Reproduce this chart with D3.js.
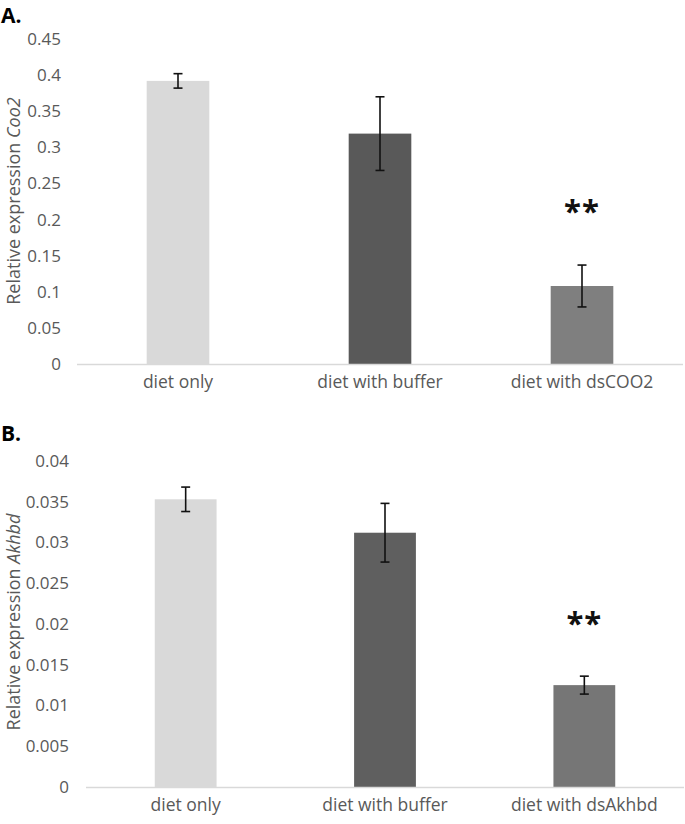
<!DOCTYPE html>
<html>
<head>
<meta charset="utf-8">
<script src="https://cdn.jsdelivr.net/npm/d3@7"></script>
<style>
	body { margin: 0; background: #fff; }
	text { font-family: "Open Sans", sans-serif; }
</style>
</head>
<body>
<div id="chart"></div>
<script>
// Values
var categoriesA = ["diet only", "diet with buffer", "diet with dsCOO2"];
var valuesA = [0.392, 0.319, 0.108];
var errorsA = [0.010, 0.051, 0.029];
var ticksA = [0, 0.05, 0.1, 0.15, 0.2, 0.25, 0.3, 0.35, 0.4, 0.45];
var colorsA = ["#d9d9d9", "#595959", "#7f7f7f"];

var categoriesB = ["diet only", "diet with buffer", "diet with dsAkhbd"];
var valuesB = [0.0353, 0.0312, 0.0125];
var errorsB = [0.0015, 0.0036, 0.0011];
var ticksB = [0, 0.005, 0.01, 0.015, 0.02, 0.025, 0.03, 0.035, 0.04];
var colorsB = ["#d9d9d9", "#5f5f5f", "#767676"];

var width = 685, height = 824;

var svg = d3.select("#chart").append("svg")
	.attr("width", width)
	.attr("height", height);

// Draws one panel of the figure
function drawPanel(opts) {
	var g = svg.append("g");

	var x = d3.scaleBand()
		.domain(opts.categories)
		.range([opts.left, opts.right])
		.paddingInner(0.69)
		.paddingOuter(0.345);

	var y = d3.scaleLinear()
		.domain([0, opts.max])
		.range([opts.bottom, opts.top]);

	// y tick labels, no axis line
	var yAxis = g.append("g")
		.attr("transform", "translate(" + opts.left + ",0)")
		.call(d3.axisLeft(y).tickValues(opts.ticks).tickSize(0).tickPadding(opts.tickPad)
			.tickFormat(function(d){ return String(d); }));
	yAxis.select(".domain").remove();
	yAxis.selectAll("text")
		.style("font-family", "'Open Sans', sans-serif")
		.style("font-size", "17px")
		.attr("fill", "#595959");

	// bars
	g.selectAll("rect.bar")
		.data(opts.values)
		.enter().append("rect")
		.attr("class", "bar")
		.attr("x", function(d, i){ return x(opts.categories[i]); })
		.attr("y", function(d){ return y(d); })
		.attr("width", x.bandwidth())
		.attr("height", function(d){ return y(0) - y(d); })
		.attr("fill", function(d, i){ return opts.colors[i]; });

	// category axis line
	g.append("line")
		.attr("x1", opts.left).attr("x2", opts.right)
		.attr("y1", y(0) + 0.5).attr("y2", y(0) + 0.5)
		.attr("stroke", "#d9d9d9")
		.attr("stroke-width", 1.5);

	// category labels
	g.selectAll("text.cat")
		.data(opts.categories)
		.enter().append("text")
		.attr("class", "cat")
		.attr("x", function(d){ return x(d) + x.bandwidth()/2; })
		.attr("y", y(0) + 24)
		.attr("text-anchor", "middle")
		.attr("font-size", 17.5)
		.attr("fill", "#595959")
		.text(function(d){ return d; });

	// error bars
	var capW = 4.5;
	opts.values.forEach(function(v, i){
		var cx = x(opts.categories[i]) + x.bandwidth()/2;
		var hi = y(v + opts.errors[i]), lo = y(v - opts.errors[i]);
		g.append("line").attr("x1", cx).attr("x2", cx).attr("y1", hi).attr("y2", lo);
		g.append("line").attr("x1", cx - capW).attr("x2", cx + capW).attr("y1", hi).attr("y2", hi);
		g.append("line").attr("x1", cx - capW).attr("x2", cx + capW).attr("y1", lo).attr("y2", lo);
	});
	g.selectAll("line").filter(function(){ return !d3.select(this).attr("stroke"); })
		.attr("stroke", "#111")
		.attr("stroke-width", 1.6);

	// significance mark above the last bar
	var last = opts.categories[opts.categories.length - 1];
	g.append("text")
		.attr("x", x(last) + x.bandwidth()/2)
		.attr("y", opts.starY)
		.attr("text-anchor", "middle")
		.attr("font-size", 31)
		.attr("font-weight", "bold")
		.attr("letter-spacing", 1)
		.attr("fill", "#111")
		.text("**");

	// y axis title
	var title = g.append("text")
		.attr("transform", "translate(20," + opts.titleY + ") rotate(-90)")
		.attr("text-anchor", "middle")
		.attr("font-size", 18)
		.attr("fill", "#595959");
	title.append("tspan").text("Relative expression ");
	title.append("tspan").attr("font-style", "italic").text(opts.gene);

	// panel letter
	g.append("text")
		.attr("x", 1)
		.attr("y", opts.letterY)
		.attr("font-size", 21)
		.attr("font-weight", "bold")
		.attr("fill", "#000")
		.text(opts.letter);
}

drawPanel({
	categories: categoriesA, values: valuesA, errors: errorsA, colors: colorsA,
	ticks: ticksA, max: 0.45, left: 77, right: 683, top: 39, bottom: 364,
	tickPad: 16, starY: 222, titleY: 201, gene: "Coo2", letter: "A.", letterY: 23
});

drawPanel({
	categories: categoriesB, values: valuesB, errors: errorsB, colors: colorsB,
	ticks: ticksB, max: 0.04, left: 86, right: 684, top: 461, bottom: 787,
	tickPad: 17, starY: 634, titleY: 622, gene: "Akhbd", letter: "B.", letterY: 441
});
</script>
</body>
</html>
